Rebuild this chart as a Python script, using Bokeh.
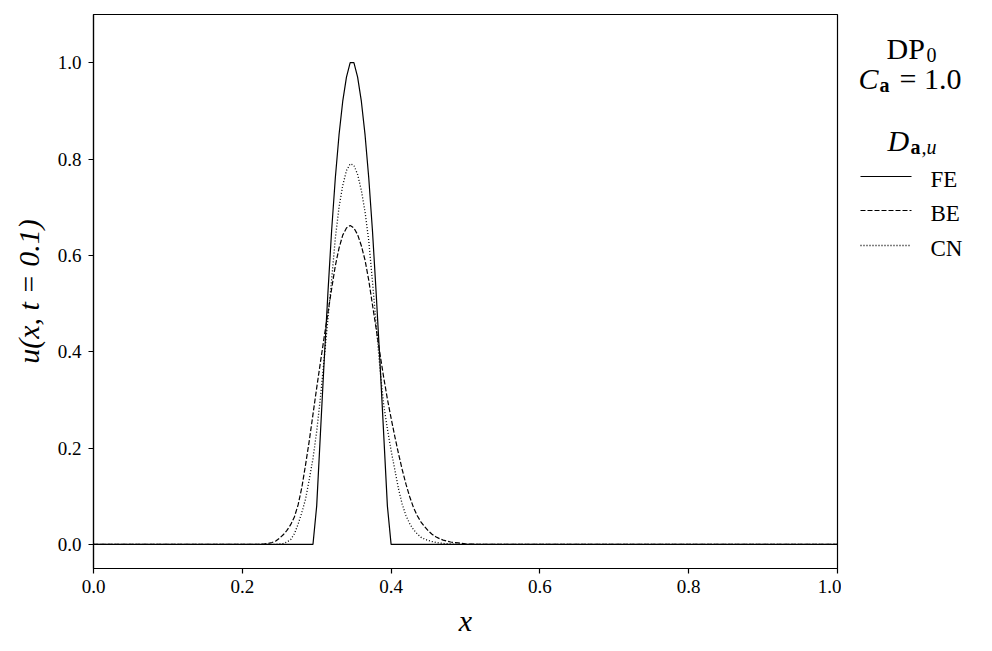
from bokeh.plotting import figure
from bokeh.layouts import row
from bokeh.models import Range1d, FixedTicker, PrintfTickFormatter, Label
from bokeh.embed import file_html
from bokeh.resources import INLINE

# ---------------- data ----------------
fe_x = [0.0, 0.295, 0.300, 0.305, 0.310, 0.315, 0.320, 0.325, 0.330, 0.335, 0.340,
        0.345, 0.350, 0.355, 0.360, 0.365, 0.370, 0.375, 0.380, 0.385, 0.390,
        0.395, 0.400, 1.0]
fe_u = [0.0, 0.0, 0.08, 0.23, 0.38, 0.52, 0.65, 0.76, 0.85, 0.92, 0.97,
        1.0, 1.0, 0.97, 0.92, 0.85, 0.76, 0.65, 0.52, 0.38, 0.23,
        0.08, 0.0, 0.0]

be_x = [0.0, 0.220, 0.230, 0.235, 0.240, 0.245, 0.250, 0.255, 0.260, 0.265, 0.270,
        0.275, 0.280, 0.285, 0.290, 0.295, 0.300, 0.305, 0.310, 0.315, 0.320,
        0.325, 0.330, 0.335, 0.340, 0.345, 0.350, 0.355, 0.360, 0.365, 0.370,
        0.375, 0.380, 0.385, 0.390, 0.395, 0.400, 0.405, 0.410, 0.415, 0.420,
        0.425, 0.430, 0.435, 0.440, 0.445, 0.450, 0.455, 0.460, 0.465, 0.470,
        0.475, 0.480, 0.490, 0.500, 0.520, 1.0]
be_u = [0.0, 0.0, 0.001, 0.002, 0.004, 0.007, 0.013, 0.020, 0.029, 0.041, 0.057,
        0.082, 0.118, 0.165, 0.215, 0.270, 0.325, 0.378, 0.430, 0.480, 0.530,
        0.578, 0.615, 0.642, 0.657, 0.662, 0.657, 0.643, 0.620, 0.590, 0.548,
        0.497, 0.447, 0.396, 0.347, 0.302, 0.262, 0.224, 0.188, 0.155, 0.125,
        0.099, 0.077, 0.060, 0.047, 0.037, 0.028, 0.021, 0.016, 0.012, 0.009,
        0.007, 0.005, 0.003, 0.001, 0.0, 0.0]

cn_x = [0.0, 0.245, 0.250, 0.255, 0.260, 0.265, 0.270, 0.275, 0.280, 0.285, 0.290,
        0.295, 0.300, 0.305, 0.310, 0.315, 0.320, 0.325, 0.330, 0.335, 0.340,
        0.345, 0.350, 0.355, 0.360, 0.365, 0.370, 0.375, 0.380, 0.385, 0.390,
        0.395, 0.400, 0.405, 0.410, 0.415, 0.420, 0.425, 0.430, 0.435, 0.440,
        0.445, 0.450, 0.455, 0.460, 0.470, 0.480, 0.490, 1.0]
cn_u = [0.0, 0.0, 0.001, 0.002, 0.005, 0.010, 0.022, 0.042, 0.066, 0.094, 0.135,
        0.178, 0.235, 0.305, 0.385, 0.466, 0.548, 0.635, 0.700, 0.745, 0.776,
        0.790, 0.787, 0.768, 0.735, 0.690, 0.630, 0.545, 0.455, 0.365, 0.290,
        0.240, 0.195, 0.155, 0.115, 0.083, 0.060, 0.043, 0.031, 0.022, 0.015,
        0.011, 0.008, 0.006, 0.004, 0.002, 0.001, 0.0, 0.0]

x_ticks = [0.0, 0.2, 0.4, 0.6, 0.8, 1.0]
y_ticks = [0.0, 0.2, 0.4, 0.6, 0.8, 1.0]
series_names = ["FE", "BE", "CN"]

SERIF = "Liberation Serif"

# ---------------- main plot ----------------
p = figure(frame_width=744, frame_height=554,
           x_range=Range1d(0.0, 1.0), y_range=Range1d(-0.05, 1.1),
           output_backend="svg", toolbar_location=None,
           min_border_left=93, min_border_right=4,
           min_border_top=14, min_border_bottom=75)
p.xgrid.visible = False
p.ygrid.visible = False
p.outline_line_color = "black"
p.outline_line_width = 1.2
p.outline_line_alpha = 1.0

for ax, ticks in ((p.xaxis[0], x_ticks), (p.yaxis[0], y_ticks)):
    ax.ticker = FixedTicker(ticks=ticks)
    ax.formatter = PrintfTickFormatter(format="%.1f")
    ax.major_tick_in = 0
    ax.major_tick_out = 5
    ax.minor_tick_line_color = None
    ax.axis_line_color = "black"
    ax.axis_line_width = 1.2
    ax.major_tick_line_color = "black"
    ax.major_tick_line_width = 1.2
    ax.major_label_text_font = SERIF
    ax.major_label_text_font_size = "19px"
    ax.major_label_text_color = "black"
    ax.axis_label_text_font = SERIF
    ax.axis_label_text_font_style = "italic"
    ax.axis_label_text_font_size = "30px"
    ax.axis_label_text_color = "black"

p.xaxis.axis_label = "x"
p.yaxis.axis_label = "u(x, t = 0.1)"
p.xaxis.major_label_standoff = 6
p.xaxis.axis_label_standoff = 8
p.yaxis.major_label_standoff = 7
p.yaxis.axis_label_standoff = 10

p.line(fe_x, fe_u, line_color="black", line_width=1.2)
p.line(be_x, be_u, line_color="black", line_width=1.2, line_dash="5 2")
p.line(cn_x, cn_u, line_color="black", line_width=1.3, line_dash="1 2")

# ---------------- side panel (annotation + legend) ----------------
SW, SH = 142, 643
s = figure(frame_width=SW, frame_height=SH,
           x_range=Range1d(0, SW), y_range=Range1d(0, SH),
           output_backend="svg", toolbar_location=None,
           x_axis_location=None, y_axis_location=None, min_border=0)
s.xgrid.visible = False
s.ygrid.visible = False
s.outline_line_color = None


def lab(x, y, text, size, style="normal"):
    s.add_layout(Label(x=x, y=y, text=text, text_font=SERIF,
                       text_font_size=size, text_font_style=style,
                       text_color="black", text_align="left",
                       text_baseline="alphabetic"))


# DP_0
lab(45, 609, "DP", "30px")
lab(85, 603, "0", "20px")
# C_a = 1.0
lab(17, 579, "C", "30px", "italic")
lab(38, 573, "a", "20px", "bold")
lab(58, 579, "= 1.0", "30px")
# D_{a,u}
lab(46, 517, "D", "30px", "italic")
lab(69, 511, "a", "20px", "bold")
lab(80, 511, ",u", "20px", "italic")

leg_y = [481, 447, 412]
dashes = ["solid", "5 2", "1 2"]
widths = [1.2, 1.2, 1.3]
for name, yy, dsh, lw in zip(series_names, leg_y, dashes, widths):
    s.line([19, 70], [yy, yy], line_color="black", line_width=lw, line_dash=dsh)
    lab(89, yy - 3, name, "23px")

layout = row(p, s)
open("out.html", "w").write(file_html(layout, INLINE))
